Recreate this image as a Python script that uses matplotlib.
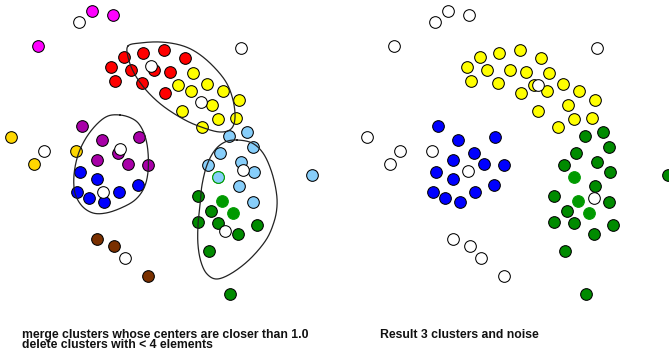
import numpy as np
import matplotlib
matplotlib.use("Agg")
import matplotlib.pyplot as plt
from matplotlib import font_manager

# ---- point positions (x to the right, y downward) ----
red = [(124, 57), (143, 53), (164, 50), (185, 58), (111, 67), (131, 70),
       (154, 70), (170, 72), (115, 81), (142, 83), (165, 93)]
yellow = [(193, 73), (178, 85), (191, 91), (207, 84), (223, 91), (239, 100),
          (212, 105), (182, 111), (218, 119), (236, 118), (202, 127)]
magenta = [(92, 11), (113, 15), (38, 46)]
gold = [(11, 137), (76, 151), (34, 164)]
purple = [(82, 126), (102, 140), (139, 137), (118, 153), (97, 160),
          (128, 164), (148, 165)]
blue = [(80, 172), (97, 179), (138, 185), (77, 192), (119, 192),
        (89, 198), (104, 202)]
lightblue = [(229, 136), (247, 132), (253, 147), (220, 153), (241, 162),
             (208, 165), (254, 172), (312, 175), (239, 186), (253, 202)]
lightblue_edge = [(218, 177)]
green = [(198, 196), (211, 211), (198, 222), (218, 223), (257, 225),
         (238, 234), (209, 251), (230, 294)]
brown = [(97, 239), (114, 246), (148, 276)]
noise = [(79, 22), (241, 48), (44, 151), (125, 258)]
accent = [(218, 177), (222, 201), (233, 213)]

# cluster centres before merging
centres_before = [(151, 66), (201, 102), (120, 149), (103, 192),
                  (243, 170), (225, 231)]
# centres after merging
centres_after = [(182, 85), (112, 171), (238, 198)]

# outlines around the clusters to be merged
outline_ry = [(128, 46), (140, 43), (160, 42), (180, 45), (196, 52), (212, 65),
              (226, 82), (233, 100), (235, 118), (231, 129), (220, 132),
              (204, 128), (185, 120), (163, 106), (146, 90), (134, 73), (128, 57)]
outline_pb = [(120, 115), (131, 118), (139, 124), (145, 136), (148, 152),
              (148, 172), (144, 188), (135, 200), (121, 208), (106, 213),
              (93, 213), (82, 206), (75, 193), (74, 175), (78, 155),
              (86, 138), (97, 124), (108, 116)]
outline_lg = [(237, 140), (252, 143), (263, 153), (271, 170), (276, 190),
              (277, 206), (274, 222), (266, 240), (250, 259), (232, 273),
              (217, 279), (207, 274), (201, 262), (198, 245), (198, 225),
              (200, 205), (202, 185), (207, 165), (215, 150), (225, 142)]

left_caption = ["merge clusters whose centers are closer than 1.0",
                "delete clusters with < 4 elements"]
right_caption = "Result 3 clusters and noise"

# ---- styling ----
C_RED, C_YELLOW, C_MAGENTA = "#FF0000", "#FFFF00", "#FF00FF"
C_GOLD, C_PURPLE, C_BLUE = "#FFD700", "#A800A8", "#0000FF"
C_LBLUE, C_GREEN, C_BROWN = "#87CEFA", "#008B00", "#7A3000"
C_ACCENT = "#009A00"
MS = 8.4
EW = 0.75

W, H = 669, 360
fig = plt.figure(figsize=(W / 100, H / 100), dpi=100)
PANEL_W = 340
RIGHT_X0 = 356


def make_axes(x0):
    ax = fig.add_axes([x0 / W, 0, PANEL_W / W, 1])
    ax.set_xlim(0, PANEL_W)
    ax.set_ylim(H, 0)
    ax.axis("off")
    return ax


def dots(ax, pts, face, edge="black", z=3):
    if not pts:
        return
    a = np.asarray(pts, float)
    ax.plot(a[:, 0], a[:, 1], "o", ls="none", ms=MS, mfc=face, mec=edge,
            mew=EW, zorder=z, clip_on=False)


def closed_spline(pts, n=30):
    p = np.asarray(pts, float)
    m = len(p)
    out = []
    for i in range(m):
        p0, p1, p2, p3 = p[(i - 1) % m], p[i], p[(i + 1) % m], p[(i + 2) % m]
        t = np.linspace(0, 1, n, endpoint=False)[:, None]
        out.append(0.5 * ((2 * p1) + (-p0 + p2) * t
                          + (2 * p0 - 5 * p1 + 4 * p2 - p3) * t ** 2
                          + (-p0 + 3 * p1 - 3 * p2 + p3) * t ** 3))
    out = np.vstack(out)
    return np.vstack([out, out[:1]])


# ---- left panel: clusters before merging ----
axL = make_axes(0)
for outline in (outline_ry, outline_pb, outline_lg):
    c = closed_spline(outline)
    axL.plot(c[:, 0], c[:, 1], color="#222222", lw=0.9, zorder=5)

dots(axL, red, C_RED)
dots(axL, yellow, C_YELLOW)
dots(axL, magenta, C_MAGENTA)
dots(axL, gold, C_GOLD)
dots(axL, purple, C_PURPLE)
dots(axL, blue, C_BLUE)
dots(axL, lightblue, C_LBLUE)
dots(axL, green, C_GREEN)
dots(axL, brown, C_BROWN)
dots(axL, noise, "white")
dots(axL, accent, C_ACCENT, edge=C_ACCENT, z=4)
dots(axL, lightblue_edge, C_LBLUE, edge=C_ACCENT, z=4)
dots(axL, centres_before, "white", z=6)

# ---- right panel: merged result ----
axR = make_axes(RIGHT_X0)
dots(axR, red + yellow, C_YELLOW)
dots(axR, purple + blue, C_BLUE)
dots(axR, lightblue + green, C_GREEN)
dots(axR, magenta + gold + brown + noise, "white")
dots(axR, accent, C_ACCENT, edge=C_ACCENT, z=4)
dots(axR, centres_after, "white", z=6)

# ---- captions ----
available = {f.name for f in font_manager.fontManager.ttflist}
cap_family = ["Liberation Sans Narrow"] if "Liberation Sans Narrow" in available \
    else ["Liberation Sans", "DejaVu Sans"]
cap_size = 9.6 if cap_family[0] == "Liberation Sans Narrow" else 8.8
cap_kw = dict(family=cap_family, fontsize=cap_size, fontweight="bold",
              ha="left", color="#111111")
fig.text(22 / W, 1 - 329 / H, "\n".join(left_caption), va="top",
         linespacing=0.82, **cap_kw)
fig.text(380 / W, 1 - 338 / H, right_caption, va="baseline", **cap_kw)

fig.savefig("out.png", dpi=100, facecolor="white")
